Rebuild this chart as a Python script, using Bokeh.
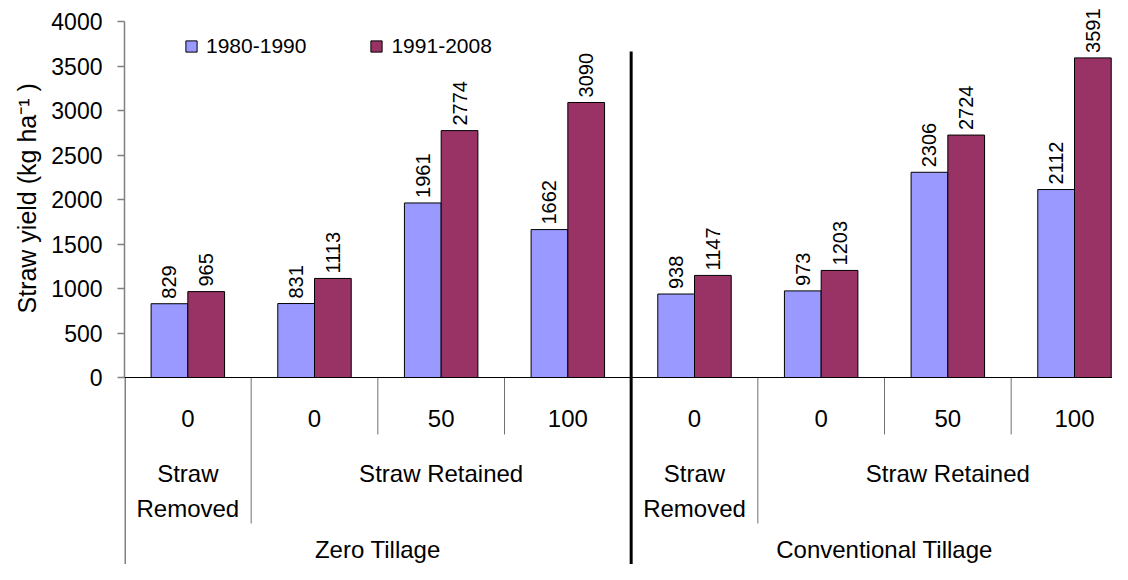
import math
from bokeh.plotting import figure
from bokeh.models import Range1d, FixedTicker, Legend, LegendItem, Span, ColumnDataSource, Title
from bokeh.embed import file_html
from bokeh.resources import INLINE
from bokeh.core.properties import value

# ---------------- data ----------------
tillage = ["Zero Tillage"] * 4 + ["Conventional Tillage"] * 4
straw = ["Straw Removed", "Straw Retained", "Straw Retained", "Straw Retained"] * 2
rate = ["0", "0", "50", "100"] * 2
series_names = ["1980-1990", "1991-2008"]
yield_1980_1990 = [829, 831, 1961, 1662, 938, 973, 2306, 2112]
yield_1991_2008 = [965, 1113, 2774, 3090, 1147, 1203, 2724, 3591]
y_ticks = [0, 500, 1000, 1500, 2000, 2500, 3000, 3500, 4000]
y_label = "Straw yield (kg ha\u207b\u00b9 )"

# ---------------- style / layout ----------------
FONT = "Liberation Sans"
C1, C2 = "#9999FF", "#993366"
BAR_W = 0.29
W, H = 1112, 564
LEFT = 124
PX_PER_UNIT = 0.089
TOP_PX = 21                       # pixel row of the 4000 tick
Y_TOP = 4000 + TOP_PX / PX_PER_UNIT
Y_BOTTOM = Y_TOP - H / PX_PER_UNIT
RATE_Y = -461
RATE_SEP_Y = -640
STRAW_Y1, STRAW_Y2 = -1079, -1472
STRAW_SEP_Y = -1640
TILL_Y = -1930
THICK_TOP = 3663

n = len(rate)
centers = [i + 0.5 for i in range(n)]

p = figure(width=W, height=H, output_backend="svg", toolbar_location=None,
           x_range=Range1d(0, 7.80), y_range=Range1d(Y_BOTTOM, Y_TOP),
           x_axis_location=None, min_border_left=LEFT, min_border_right=0,
           min_border_top=0, min_border_bottom=0)
p.outline_line_color = None
p.xgrid.visible = False
p.ygrid.visible = False
p.background_fill_color = "white"
p.border_fill_color = "white"

ax = p.yaxis[0]
ax.ticker = FixedTicker(ticks=y_ticks)
ax.bounds = (0, 4000)
ax.axis_line_color = "#808080"
ax.axis_line_width = 1.5
ax.major_tick_line_color = "#808080"
ax.major_tick_line_width = 1.5
ax.major_tick_out = 7
ax.major_tick_in = 0
ax.minor_tick_line_color = None
ax.major_label_standoff = 15
ax.major_label_text_font = FONT
ax.major_label_text_font_size = "23px"
ax.major_label_text_color = "black"

# y axis title (left side, placed along the 0-4000 span)
p.add_layout(Title(text=y_label, align="left", offset=251, standoff=16,
                   text_font=FONT, text_font_size="25px", text_font_style="normal",
                   text_color="black"), "left")

# left line continuing below the axis (outer group boundary)
p.segment(x0=0, y0=0, x1=0, y1=Y_BOTTOM, line_color="#808080", line_width=3)

# zero line
p.add_layout(Span(location=0, dimension="width", line_color="black", line_width=1.2))

# bars
renderers = []
for k, (vals, col) in enumerate([(yield_1980_1990, C1), (yield_1991_2008, C2)]):
    off = (k - 0.5) * BAR_W
    src = ColumnDataSource(dict(x=[c + off for c in centers], top=vals,
                                lab=[str(v) for v in vals]))
    r = p.vbar(x="x", top="top", bottom=0, width=BAR_W, fill_color=col,
               line_color="black", line_width=1, source=src)
    renderers.append(r)
    p.text(x="x", y="top", text="lab", angle=math.pi / 2, text_align="left",
           text_baseline="middle", y_offset=-5, text_font=value(FONT),
           text_font_size="20px", text_color="black", source=src)

# category labels: rate level
p.text(x=centers, y=[RATE_Y] * n, text=rate, text_align="center", text_baseline="middle",
       text_font=value(FONT), text_font_size="24px", text_color="black")


def runs(keys):
    out = []
    start = 0
    for i in range(1, n + 1):
        if i == n or keys[i] != keys[start]:
            out.append((start, i, keys[start]))
            start = i
    return out

# separators between categories
for i in range(1, n):
    if tillage[i] != tillage[i - 1]:
        p.segment(x0=i, y0=THICK_TOP, x1=i, y1=Y_BOTTOM, line_color="black", line_width=3)
    elif straw[i] != straw[i - 1]:
        p.segment(x0=i, y0=0, x1=i, y1=STRAW_SEP_Y, line_color="#707070", line_width=1)
    else:
        p.segment(x0=i, y0=0, x1=i, y1=RATE_SEP_Y, line_color="#707070", line_width=1)

# straw level labels
sx, sy, st = [], [], []
for s, e, key in runs(list(zip(tillage, straw))):
    label = key[1]
    lines = label.split(" ") if e - s == 1 else [label]
    for j, ln in enumerate(lines):
        sx.append((s + e) / 2)
        sy.append(STRAW_Y1 if j == 0 else STRAW_Y2)
        st.append(ln)
p.text(x=sx, y=sy, text=st, text_align="center", text_baseline="middle",
       text_font=value(FONT), text_font_size="24px", text_color="black")

# tillage level labels
tr = runs(tillage)
p.text(x=[(s + e) / 2 for s, e, _ in tr], y=[TILL_Y] * len(tr), text=[k for _, _, k in tr],
       text_align="center", text_baseline="middle", text_font=value(FONT),
       text_font_size="24px", text_color="black")

legend = Legend(items=[LegendItem(label=series_names[0], renderers=[renderers[0]]),
                       LegendItem(label=series_names[1], renderers=[renderers[1]])],
                orientation="horizontal", location=(60, 506), spacing=63,
                glyph_width=14, glyph_height=14, label_standoff=8, padding=0, margin=0,
                border_line_color=None, background_fill_alpha=0,
                label_text_font=FONT, label_text_font_size="21px", label_text_color="black")
p.add_layout(legend)

open("out.html", "w").write(file_html(p, INLINE))
